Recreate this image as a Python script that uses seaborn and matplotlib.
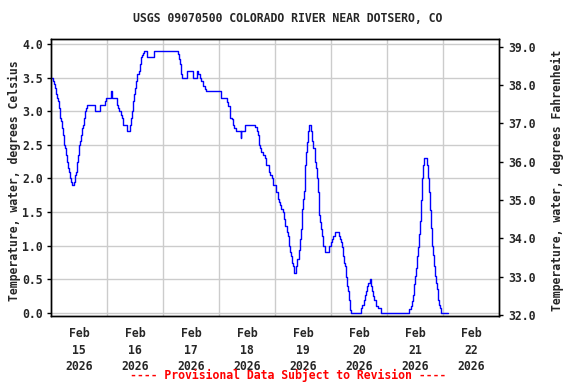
import pandas as pd
import matplotlib
matplotlib.use("Agg")
import matplotlib.pyplot as plt
import seaborn as sns

# water temperature readings, hours after Feb 15 2026 00:00
hours = [
    0.0, 0.9, 1.3, 1.7, 2.1, 2.6, 3.0, 3.4, 3.7, 4.1, 4.6, 5.0, 5.4, 5.9, 6.3, 6.7,
    7.1, 7.6, 8.0, 8.4, 8.9, 9.7, 10.1, 10.6, 11.0, 11.4, 11.9, 12.3, 12.7, 13.1,
    13.6, 14.0, 14.4, 14.9, 15.3, 18.7, 20.9, 23.0, 23.4, 25.7, 25.9, 26.1, 28.3,
    28.9, 29.3, 29.9, 30.4, 30.9, 32.4, 33.9, 34.4, 34.9, 35.3, 35.7, 36.1, 36.6,
    37.0, 37.6, 38.0, 38.4, 38.9, 39.4, 39.9, 41.1, 44.0, 44.3, 54.4, 54.9, 55.3,
    55.6, 55.9, 56.1, 58.3, 60.9, 62.6, 63.1, 63.7, 64.3, 65.1, 65.9, 66.3, 73.0,
    75.4, 76.0, 76.6, 76.9, 77.4, 78.0, 78.6, 79.1, 81.3, 81.5, 83.0, 87.6, 88.1,
    88.6, 89.0, 89.6, 90.1, 90.7, 91.6, 92.1, 93.3, 94.0, 94.6, 95.3, 96.6, 97.1,
    97.6, 98.1, 98.7, 99.3, 99.9, 100.4, 101.0, 101.4, 101.9, 102.1, 102.6, 102.9,
    103.3, 103.7, 104.0, 105.1, 105.6, 106.1, 106.6, 107.0, 107.4, 107.7, 108.1,
    108.4, 108.7, 109.0, 109.3, 109.6, 110.0, 110.4, 111.6, 112.0, 112.4, 113.3,
    113.7, 114.1, 114.4, 114.7, 115.0, 115.4, 115.9, 116.3, 116.7, 117.4, 119.3,
    120.0, 120.4, 121.0, 121.6, 123.3, 123.7, 124.1, 124.6, 125.0, 125.4, 125.9,
    126.3, 126.7, 127.3, 127.7, 128.1, 128.6, 132.7, 133.3, 134.1, 134.6, 135.0,
    135.4, 136.0, 136.6, 137.1, 137.7, 138.1, 138.6, 139.3, 140.1, 141.6, 153.6,
    154.1, 154.7, 155.1, 155.6, 156.0, 156.4, 156.9, 157.3, 157.9, 158.3, 158.7,
    159.1, 159.6, 159.9, 161.0, 161.4, 161.9, 162.3, 162.7, 163.1, 163.6, 164.0,
    164.4, 164.9, 165.3, 165.7, 166.1, 166.6, 167.0, 170.1,
]
temp_c = [
    3.50, 3.45, 3.40, 3.35, 3.25, 3.20, 3.15, 3.05, 2.90, 2.85, 2.75, 2.65, 2.50, 2.45, 2.35, 2.25,
    2.15, 2.10, 2.00, 1.95, 1.90, 1.95, 2.05, 2.10, 2.25, 2.35, 2.50, 2.55, 2.65, 2.75,
    2.80, 2.90, 3.00, 3.05, 3.10, 3.00, 3.10, 3.15, 3.20, 3.25, 3.30, 3.20, 3.10,
    3.05, 3.00, 2.95, 2.90, 2.80, 2.70, 2.80, 2.90, 3.00, 3.15, 3.25, 3.35, 3.45,
    3.55, 3.60, 3.70, 3.80, 3.83, 3.87, 3.90, 3.80, 3.85, 3.90, 3.85, 3.77, 3.70,
    3.63, 3.55, 3.50, 3.60, 3.50, 3.60, 3.56, 3.50, 3.45, 3.38, 3.33, 3.30, 3.20,
    3.13, 3.08, 3.00, 2.90, 2.88, 2.80, 2.75, 2.70, 2.60, 2.70, 2.80, 2.76, 2.70,
    2.64, 2.50, 2.45, 2.40, 2.35, 2.30, 2.20, 2.10, 2.05, 2.00, 1.90, 1.80, 1.70,
    1.65, 1.60, 1.55, 1.50, 1.40, 1.30, 1.20, 1.15, 1.05, 1.00, 0.90, 0.85,
    0.75, 0.70, 0.60, 0.70, 0.80, 0.94, 1.10, 1.25, 1.40, 1.55, 1.70,
    1.82, 1.97, 2.20, 2.39, 2.54, 2.70, 2.80, 2.70, 2.55, 2.45, 2.25,
    2.15, 2.00, 1.80, 1.65, 1.45, 1.35, 1.25, 1.15, 1.00, 0.90, 1.00,
    1.05, 1.10, 1.15, 1.20, 1.15, 1.10, 1.05, 0.98, 0.85, 0.75, 0.70,
    0.53, 0.40, 0.33, 0.20, 0.05, 0.00, 0.07, 0.12, 0.20, 0.27, 0.33,
    0.40, 0.45, 0.50, 0.40, 0.33, 0.25, 0.20, 0.10, 0.07, 0.00, 0.06,
    0.10, 0.18, 0.26, 0.43, 0.55, 0.67, 0.85, 0.98, 1.18, 1.37, 1.68,
    2.00, 2.20, 2.30, 2.20, 2.00, 1.80, 1.53, 1.26, 1.00, 0.86, 0.70,
    0.55, 0.45, 0.35, 0.20, 0.12, 0.07, 0.00, 0.00,
]

celsius_ticks = [0.0, 0.5, 1.0, 1.5, 2.0, 2.5, 3.0, 3.5, 4.0]
fahrenheit_ticks = [32.0, 33.0, 34.0, 35.0, 36.0, 37.0, 38.0, 39.0]
day_labels = ["Feb\n15\n2026", "Feb\n16\n2026", "Feb\n17\n2026", "Feb\n18\n2026",
              "Feb\n19\n2026", "Feb\n20\n2026", "Feb\n21\n2026", "Feb\n22\n2026"]

sns.set_theme(style="whitegrid")
plt.rcParams["font.family"] = ["DejaVu Sans Mono"]
plt.rcParams["font.weight"] = "bold"
plt.rcParams["axes.labelweight"] = "bold"

start = pd.Timestamp("2026-02-15")
df = pd.DataFrame({
    "time": start + pd.to_timedelta(hours, unit="h"),
    "temp": temp_c,
})

fig = plt.figure(figsize=(5.76, 3.84), dpi=100)
ax = fig.add_axes([51 / 576, 1 - 316 / 384, 448 / 576, 277 / 384])
ax.set_facecolor("white")

sns.lineplot(data=df, x="time", y="temp", ax=ax, color="#0000ff",
             linewidth=1.0, drawstyle="steps-post")

# x axis: gridlines at midnight, labels at noon
midnights = [start + pd.Timedelta(days=d) for d in range(1, 8)]
noons = [start + pd.Timedelta(days=d, hours=12) for d in range(8)]
ax.set_xlim(start, start + pd.Timedelta(days=8))
ax.set_xticks(noons)
ax.set_xticklabels(day_labels, fontsize=8.3, linespacing=1.35)
ax.set_xticks(midnights, minor=True)
ax.grid(False, axis="x", which="major")
ax.grid(True, axis="x", which="minor", color="#cccccc", linewidth=1)
ax.tick_params(axis="x", which="both", length=0, pad=8)

ax.set_ylim(-0.045, 4.074)
ax.set_yticks(celsius_ticks)
ax.set_yticklabels([f"{v:.1f}" for v in celsius_ticks], fontsize=8.3)
ax.grid(True, axis="y", color="#cccccc", linewidth=1)
ax.tick_params(axis="y", length=3, width=1, color="black", left=True, pad=3)
ax.set_xlabel("")
ax.set_ylabel("Temperature, water, degrees Celsius", fontsize=8.3)
ax.yaxis.set_label_coords(-0.068, 0.49)

ax2 = ax.twinx()
ax2.set_ylim(31.97, 39.2)
ax2.set_yticks(fahrenheit_ticks)
ax2.set_yticklabels([f"{v:.1f}" for v in fahrenheit_ticks], fontsize=8.3)
ax2.grid(False)
ax2.tick_params(axis="y", length=3, width=1, color="black", right=True, pad=4)
ax2.set_ylabel("Temperature, water, degrees Fahrenheit", fontsize=8.3)
ax2.yaxis.set_label_coords(1.115, 0.49)

for a in (ax, ax2):
    for side in a.spines.values():
        side.set_color("black")
        side.set_linewidth(1.0)

fig.text(0.5, 1 - 19 / 384, "USGS 09070500 COLORADO RIVER NEAR DOTSERO, CO",
         ha="center", va="center", fontsize=8.3, fontweight="bold")
fig.text(0.5, 1 - 375 / 384, "---- Provisional Data Subject to Revision ----",
         ha="center", va="center", fontsize=8.3, fontweight="bold", color="red")

fig.savefig("out.png", dpi=100, facecolor="white")
